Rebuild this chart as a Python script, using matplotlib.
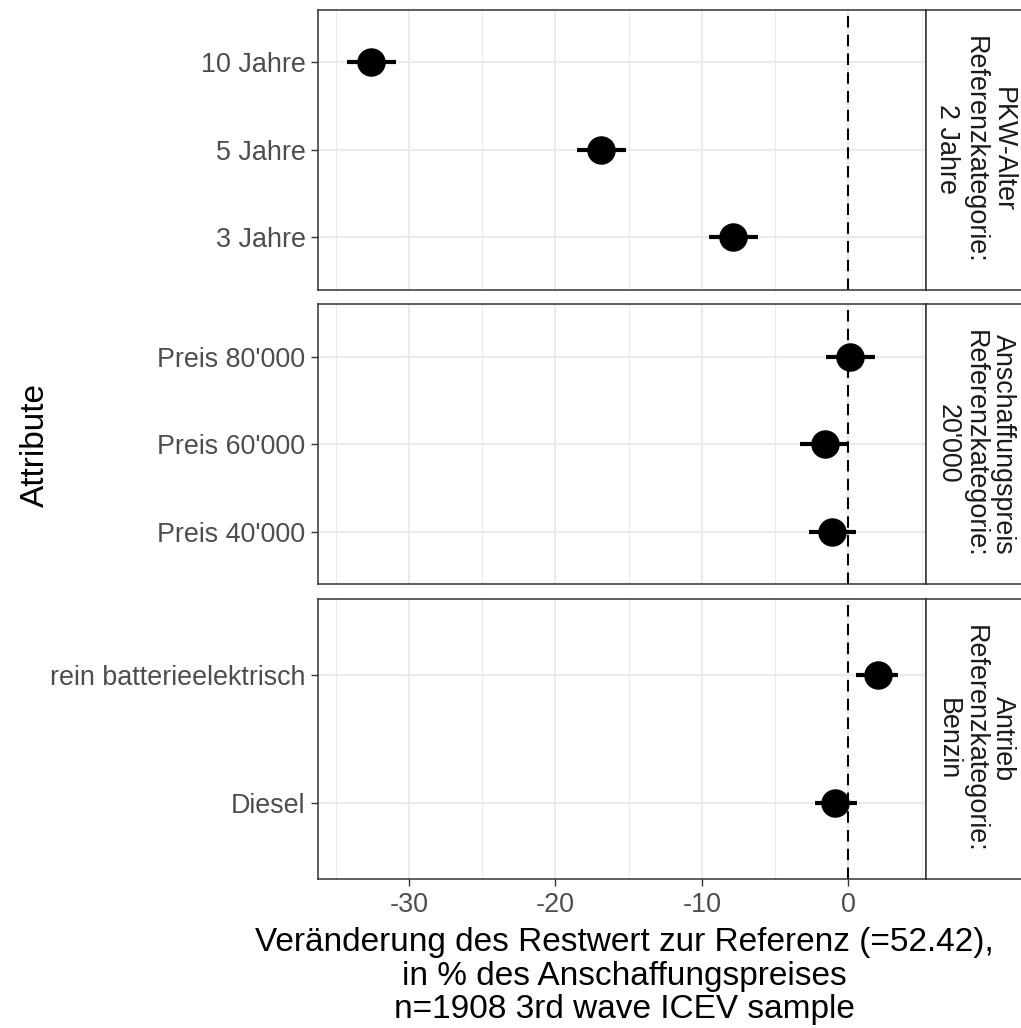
import matplotlib
matplotlib.use("Agg")
import matplotlib.pyplot as plt
from matplotlib.ticker import MultipleLocator

plt.rcParams["font.family"] = ["Liberation Sans", "DejaVu Sans"]
plt.rcParams["axes.unicode_minus"] = False

# Facet titles (strip on the right)
strip_titles = [
    "PKW-Alter\nReferenzkategorie:\n2 Jahre",
    "Anschaffungspreis\nReferenzkategorie:\n20'000",
    "Antrieb\nReferenzkategorie:\nBenzin",
]

# Attribute levels, bottom to top in each panel
age_labels = ["3 Jahre", "5 Jahre", "10 Jahre"]
age_est = [-7.9, -16.9, -32.6]
age_lo = [-9.5, -18.5, -34.2]
age_hi = [-6.2, -15.2, -30.9]

price_labels = ["Preis 40'000", "Preis 60'000", "Preis 80'000"]
price_est = [-1.1, -1.6, 0.1]
price_lo = [-2.7, -3.3, -1.5]
price_hi = [0.5, 0.0, 1.8]

drive_labels = ["Diesel", "rein batterieelektrisch"]
drive_est = [-0.9, 2.0]
drive_lo = [-2.3, 0.5]
drive_hi = [0.6, 3.4]

x_title = ("Veränderung des Restwert zur Referenz (=52.42),\n"
           "in % des Anschaffungspreises\n"
           "n=1908 3rd wave ICEV sample")
y_title = "Attribute"

panels = [
    (age_labels, age_est, age_lo, age_hi),
    (price_labels, price_est, price_lo, price_hi),
    (drive_labels, drive_est, drive_lo, drive_hi),
]

W, H = 1021, 1028
fig = plt.figure(figsize=(W / 100, H / 100), dpi=100)

# panel extents in pixels (top, bottom)
panel_px = [(9.5, 289.5), (304, 584), (599, 879)]
left_px, right_px = 318, 925.7

border = "#333333"
grid_major = "#EBEBEB"
tick_size = 19.4

for i, ((labels, est, lo, hi), (top, bot)) in enumerate(zip(panels, panel_px)):
    ax = fig.add_axes([left_px / W, 1 - bot / H, (right_px - left_px) / W, (bot - top) / H])
    n = len(labels)
    pos = list(range(1, n + 1))
    ax.set_xlim(-36.2, 5.27)
    ax.set_ylim(0.4, n + 0.6)

    ax.xaxis.set_major_locator(MultipleLocator(10))
    ax.xaxis.set_minor_locator(MultipleLocator(5))
    ax.grid(which="major", color=grid_major, lw=1.5, zorder=0)
    ax.grid(which="minor", axis="x", color=grid_major, lw=0.8, zorder=0)
    ax.set_axisbelow(True)

    ax.axvline(0, color="black", lw=1.5, dashes=(5.5, 3.5), zorder=1)

    err_lo = [e - l for e, l in zip(est, lo)]
    err_hi = [h - e for e, h in zip(est, hi)]
    ax.errorbar(est, pos, xerr=[err_lo, err_hi], fmt="none", ecolor="black",
                elinewidth=3.0, capsize=0, zorder=2)
    ax.plot(est, pos, "o", color="black", markersize=19.5, zorder=3)

    ax.set_yticks(pos)
    ax.set_yticklabels(labels)
    ax.tick_params(axis="y", which="both", length=5, width=1.0, color=border,
                   labelsize=tick_size, labelcolor="#4D4D4D", pad=4)
    ax.tick_params(axis="x", which="minor", length=0)
    if i < 2:
        ax.tick_params(axis="x", which="major", length=0, labelbottom=False)
    else:
        ax.tick_params(axis="x", which="major", length=5, width=1.0, color=border,
                       labelsize=tick_size, labelcolor="#4D4D4D", pad=4)
    for sp in ax.spines.values():
        sp.set_color(border)
        sp.set_linewidth(1.1)

    # strip on the right
    sax = fig.add_axes([right_px / W, 1 - bot / H, (1040 - right_px) / W, (bot - top) / H])
    sax.set_xticks([])
    sax.set_yticks([])
    for sp in sax.spines.values():
        sp.set_color(border)
        sp.set_linewidth(1.1)
    fig.text(975 / W, 1 - (top + bot) / 2 / H, strip_titles[i], rotation=-90,
             ha="center", va="center", multialignment="center",
             fontsize=tick_size, color="#1A1A1A", linespacing=1.08)

fig.text(35 / W, 1 - 445 / H, y_title, rotation=90, ha="center", va="center",
         fontsize=24, color="black")
fig.text(624 / W, 1 - 976 / H, x_title, ha="center", va="center",
         multialignment="center", fontsize=24, color="black", linespacing=1.1)

fig.savefig("out.png", dpi=100, facecolor="white")
